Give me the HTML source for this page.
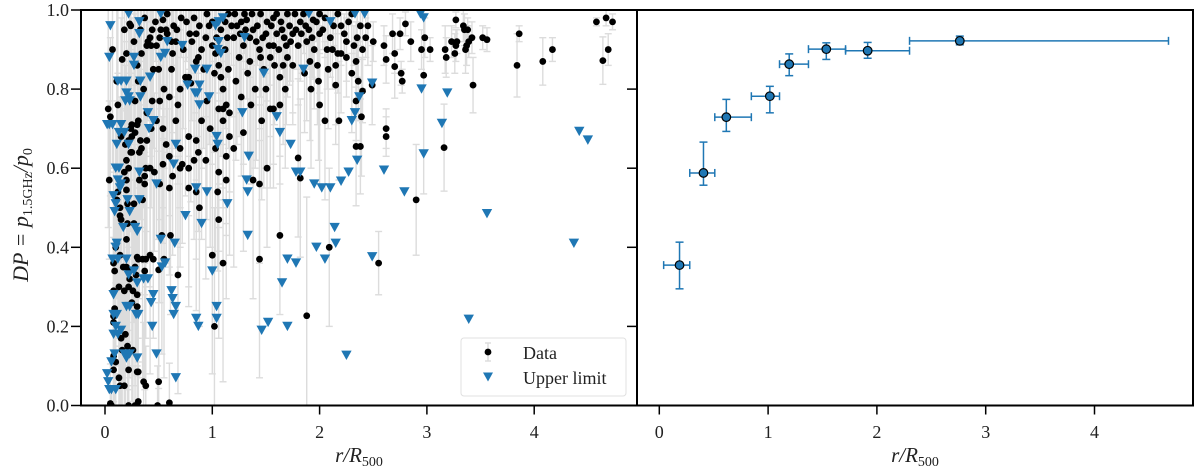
<!DOCTYPE html>
<html><head><meta charset="utf-8"><style>
html,body{margin:0;padding:0;background:#fff;width:1200px;height:466px;overflow:hidden}
svg text{font-family:"Liberation Serif",serif;fill:#222}
</style></head><body>
<svg id="chart" width="1200" height="466" viewBox="0 0 1200 466" xmlns="http://www.w3.org/2000/svg">
<defs><clipPath id="clipL"><rect x="81" y="10" width="556" height="395.5"/></clipPath>
<clipPath id="clipR"><rect x="637" y="10" width="556" height="395.5"/></clipPath></defs>
<g id="left"></g>
<g id="right"></g>
</svg>
<script>
// ---- left panel data: [r, DP, err]
const dataPoints = [
[0.04,0.57,0.2],[0.05,0.005,0.1],[0.08,0.226,0.3],[0.08,0.21,0.2],[0.08,0.09,0.15],[0.08,0.125,0.3],[0.1,0.11,0.2],[0.08,0.36,0.35],[0.09,0.34,0.2],[0.08,0.29,0.3],[0.09,0.245,0.25],[0.1,0.40,0.3],[0.13,0.30,0.2],[0.12,0.54,0.3],[0.11,0.52,0.25],[0.14,0.48,0.3],[0.14,0.50,0.2],[0.15,0.47,0.3],[0.13,0.07,0.1],[0.14,0.05,0.1],[0.15,0.17,0.2],[0.16,0.14,0.2],[0.17,0.35,0.3],[0.14,0.38,0.3],[0.18,0.29,0.2],[0.19,0.18,0.2],[0.18,0.05,0.1],[0.2,0.42,0.3],[0.2,0.35,0.2],[0.22,0.34,0.3],[0.22,0.30,0.2],[0.23,0.32,0.25],[0.21,0.15,0.2],[0.25,0.26,0.25],[0.26,0.29,0.2],[0.21,0.46,0.3],[0.2,0.57,0.3],[0.2,0.545,0.2],[0.21,0.51,0.2],[0.2,0.62,0.3],[0.24,0.64,0.2],[0.25,0.68,0.3],[0.24,0.70,0.2],[0.18,0.59,0.3],[0.22,0.60,0.2],[0.22,0.09,0.1],[0.28,0.0,0.1],[0.3,0.0,0.1],[0.22,0.0,0.05],[0.3,0.085,0.15],[0.3,0.28,0.2],[0.3,0.25,0.3],[0.28,0.35,0.3],[0.29,0.33,0.2],[0.26,0.14,0.2],[0.27,0.51,0.3],[0.27,0.46,0.2],[0.32,0.57,0.3],[0.37,0.56,0.2],[0.37,0.58,0.3],[0.35,0.52,0.2],[0.38,0.60,0.3],[0.33,0.67,0.2],[0.32,0.64,0.3],[0.3,0.71,0.2],[0.3,0.375,0.3],[0.31,0.37,0.2],[0.35,0.37,0.3],[0.38,0.37,0.2],[0.37,0.34,0.3],[0.36,0.06,0.15],[0.38,0.05,0.1],[0.31,0.085,0.2],
[0.07,0.90,0.3],[0.16,0.875,0.3],[0.20,0.89,0.2],[0.24,0.96,0.2],[0.23,0.965,0.3],[0.11,0.82,0.3],[0.12,0.76,0.3],[0.03,0.75,0.3],[0.05,0.73,0.2],[0.15,0.68,0.3],[0.19,0.66,0.2],[0.22,0.67,0.3],[0.25,0.64,0.2],[0.28,0.77,0.3],[0.3,0.86,0.2],[0.31,0.82,0.3],[0.34,0.89,0.2],[0.39,0.91,0.3],[0.40,0.92,0.2],[0.42,0.93,0.3],[0.43,0.91,0.2],[0.44,0.95,0.3],[0.48,0.91,0.2],[0.5,0.85,0.3],[0.52,0.95,0.2],[0.54,0.975,0.3],[0.57,0.95,0.2],[0.58,0.94,0.3],[0.51,0.93,0.2],[0.62,0.92,0.3],[0.63,0.89,0.2],[0.67,0.95,0.3],[0.66,0.92,0.2],[0.7,0.80,0.3],[0.68,0.76,0.2],[0.75,0.83,0.3],[0.78,0.83,0.2],[0.8,0.815,0.3],[0.81,0.92,0.2],[0.83,0.98,0.3],[0.85,0.94,0.2],[0.85,0.87,0.3],[0.87,0.88,0.2],[0.90,0.9,0.3],[0.94,0.93,0.2],[0.97,0.96,0.3],[1.0,0.91,0.3],[1.03,0.89,0.2],[1.06,0.86,0.3],[1.08,0.83,0.2],[1.1,0.80,0.3],[1.1,0.75,0.2],[1.13,0.76,0.3],[1.16,0.74,0.2],[1.06,0.75,0.3],[1.2,0.93,0.2],[1.23,0.96,0.3],[1.26,0.94,0.2],[1.29,0.91,0.3],[1.32,0.975,0.2],[1.35,0.87,0.3],[1.38,0.95,0.2],[1.41,0.92,0.3],[1.44,0.9,0.2],[1.48,0.85,0.3],[1.51,0.97,0.2],[1.54,0.88,0.2],[1.57,0.91,0.3],[1.6,0.94,0.2],[1.63,0.83,0.2],[1.66,0.86,0.2],[1.69,0.91,0.2],[1.72,0.96,0.15],[1.75,0.94,0.2],[1.82,0.97,0.15],[1.88,0.92,0.2],[1.91,0.87,0.2],[1.94,0.975,0.15],[2.0,0.94,0.15],[1.99,0.82,0.2],[2.0,0.76,0.2],[2.05,0.72,0.2],[2.15,0.81,0.15],[2.17,0.89,0.1],[2.25,0.92,0.1],[2.34,0.87,0.1],[2.18,0.72,0.15],[2.34,0.655,0.15],[1.8,0.626,0.2],[1.82,0.575,0.2],[1.51,0.6,0.2],[1.46,0.72,0.2],[1.29,0.69,0.3],[1.38,0.57,0.3],[1.44,0.56,0.2],[1.63,0.76,0.2],[1.57,0.75,0.2],[1.54,0.75,0.2],[1.16,0.68,0.3],[1.1,0.72,0.2],[1.03,0.65,0.3],[1.13,0.63,0.2],[1.2,0.65,0.3],[1.06,0.59,0.2],[1.13,0.57,0.3],[1.05,0.54,0.2],[0.94,0.62,0.3],[0.87,0.64,0.2],[0.85,0.67,0.3],[0.78,0.68,0.2],[0.7,0.65,0.3],[0.72,0.61,0.2],[0.78,0.6,0.3],[0.83,0.62,0.2],[0.85,0.54,0.3],[0.7,0.6,0.2],[0.6,0.63,0.3],[0.63,0.58,0.2],[0.51,0.56,0.3],[0.46,0.59,0.2],[0.57,0.66,0.3],[0.54,0.61,0.2],[0.42,0.6,0.3],[0.43,0.7,0.2],[0.48,0.72,0.3],[0.54,0.7,0.2],[0.39,0.74,0.3],[0.44,0.77,0.2],[0.51,0.77,0.3],[0.55,0.8,0.2],[0.6,0.78,0.3],[0.31,0.72,0.2],[0.28,0.69,0.3],[0.25,0.71,0.2],[0.39,0.67,0.3],[0.34,0.65,0.2],[0.78,0.55,0.3],[0.6,0.55,0.2],
[1.85,0.99,0.1],[1.9,0.95,0.1],[1.95,0.9,0.15],[2.05,0.98,0.1],[2.1,0.93,0.1],[2.2,0.96,0.1],[2.3,0.99,0.1],[2.35,0.93,0.1],[2.4,0.9,0.1],[2.2,0.89,0.15],[1.8,0.91,0.15],[1.7,0.99,0.1],[1.6,0.99,0.1],[1.45,0.99,0.1],[1.3,0.99,0.1],[1.15,0.99,0.1],[2.0,0.99,0.1],[2.45,0.96,0.1],[2.15,0.86,0.15],[2.3,0.84,0.15],[2.25,0.88,0.1],
[1.25,0.88,0.2],[1.33,0.84,0.2],[1.4,0.8,0.2],[1.47,0.93,0.1],[1.55,0.96,0.1],[1.62,0.9,0.15],[1.68,0.8,0.2],[1.75,0.86,0.15],[1.78,0.95,0.1],[1.12,0.9,0.2],[1.15,0.85,0.2],[1.18,0.96,0.1],[1.0,0.97,0.1],[1.02,0.84,0.2],[0.92,0.85,0.2],[0.95,0.77,0.3],[0.9,0.72,0.3],[0.98,0.7,0.3],[0.73,0.9,0.2],[0.76,0.97,0.1],[0.62,0.85,0.2],[0.66,0.72,0.3],[0.45,0.85,0.2],[0.36,0.8,0.3],[0.33,0.95,0.2],[0.27,0.92,0.2],[0.18,0.95,0.2],[1.27,0.78,0.2],[1.22,0.82,0.2],[1.36,0.76,0.2],[1.5,0.8,0.2],[1.58,0.86,0.15],[1.65,0.95,0.1],[1.92,0.8,0.2],[2.08,0.85,0.15],[2.12,0.9,0.1],[1.98,0.86,0.15],[1.86,0.84,0.15],
[1.08,0.95,0.1],[1.12,0.97,0.1],[1.21,0.99,0.05],[1.27,0.97,0.1],[1.35,0.93,0.1],[1.37,0.99,0.05],[1.42,0.96,0.1],[1.5,0.94,0.1],[1.53,0.91,0.1],[1.57,0.98,0.05],[1.64,0.97,0.05],[1.67,0.93,0.1],[1.73,0.92,0.1],[1.77,0.99,0.05],[1.83,0.94,0.1],[1.87,0.96,0.05],[1.93,0.93,0.1],[1.97,0.97,0.05],[2.03,0.95,0.05],[2.07,0.9,0.1],[2.13,0.96,0.05],[2.17,0.99,0.05],[2.23,0.94,0.05],[2.27,0.97,0.05],[2.32,0.91,0.05],[2.38,0.96,0.05],[2.43,0.93,0.05],[0.95,0.99,0.05],[0.88,0.96,0.1],[0.79,0.94,0.1],[0.71,0.98,0.1],[0.64,0.96,0.1],[0.58,0.99,0.1],[0.47,0.97,0.1],[0.37,0.98,0.1],[1.04,0.93,0.1],[1.14,0.93,0.1],[1.31,0.95,0.1],[1.45,0.88,0.1],[1.7,0.88,0.1],
[1.02,0.20,0.3],[1.1,0.36,0.3],[1.0,0.38,0.3],[1.06,0.47,0.3],[0.88,0.5,0.3],[1.44,0.37,0.3],[1.63,0.43,0.2],[1.88,0.227,0.3],[2.09,0.40,0.2],[0.68,0.33,0.3],[0.53,0.43,0.3],[0.61,0.43,0.2],[0.42,0.38,0.3],[0.45,0.37,0.2],[0.55,0.37,0.3],[0.5,0.343,0.3],[0.5,0.06,0.2],[0.31,0.01,0.1],[0.49,0.0,0.1],[0.6,0.007,0.1],[0.06,0.0,0.05],
[2.49,0.81,0.1],[2.97,0.835,0.3],[3.43,0.81,0.07],[3.84,0.86,0.08],[3.86,0.94,0.02],[4.08,0.87,0.06],[4.17,0.9,0.03],[4.58,0.97,0.01],[4.67,0.98,0.02],[4.73,0.97,0.02],[4.69,0.9,0.04],[4.64,0.872,0.06],[2.62,0.70,0.05],[2.62,0.68,0.05],[2.55,0.36,0.08],[2.9,0.52,0.14],[3.16,0.652,0.11],[2.38,0.655,0.12],[2.39,0.73,0.15],[2.4,0.795,0.08],[2.34,0.77,0.1],[2.36,0.82,0.1],[2.95,0.9,0.05],[3.03,0.9,0.03],[2.98,0.93,0.05],[2.85,0.92,0.05],[2.77,0.82,0.03],[2.76,0.84,0.03],[2.7,0.857,0.08],[2.7,0.89,0.05],[2.62,0.875,0.06],[2.5,0.92,0.05],[2.6,0.91,0.05],[2.68,0.94,0.05],[2.75,0.94,0.04],[2.8,0.965,0.03],[3.27,0.975,0.02],[3.35,0.95,0.04],[3.34,0.96,0.04],[3.38,0.95,0.03],[3.17,0.9,0.06],[3.18,0.88,0.05],[3.26,0.89,0.05],[3.27,0.91,0.04],[3.28,0.92,0.03],[3.23,0.92,0.04],[3.36,0.9,0.06],[3.37,0.91,0.05],[3.39,0.92,0.04],[3.42,0.93,0.04],[3.52,0.93,0.03],[3.56,0.925,0.03]
];
const ulPoints = [
[0.02,0.71],[0.04,0.71],[0.07,0.71],[0.05,0.96],[0.04,0.88],[0.02,0.08],[0.03,0.06],[0.04,0.04],[0.06,0.04],[0.1,0.04],[0.06,0.11],[0.09,0.13],[0.08,0.18],[0.1,0.2],[0.12,0.18],[0.15,0.19],[0.08,0.23],[0.11,0.23],[0.08,0.28],[0.07,0.37],[0.1,0.40],[0.11,0.41],[0.12,0.37],[0.09,0.49],[0.08,0.53],[0.1,0.51],[0.1,0.6],[0.13,0.6],[0.12,0.57],[0.14,0.55],[0.15,0.56],[0.11,0.66],[0.13,0.69],[0.15,0.71],[0.18,0.69],[0.12,0.82],[0.15,0.82],[0.2,0.82],[0.2,0.79],[0.22,0.78],[0.23,0.77],[0.19,0.77],[0.22,0.66],[0.21,0.52],[0.23,0.49],[0.17,0.45],[0.2,0.37],[0.22,0.33],[0.27,0.34],[0.3,0.31],[0.2,0.25],[0.23,0.25],[0.18,0.13],[0.23,0.13],[0.2,0.12],[0.3,0.12],[0.31,0.23],[0.29,0.23],[0.3,0.44],[0.28,0.45],[0.32,0.59],[0.32,0.52],[0.27,0.88],[0.27,0.86],[0.22,0.99],[0.32,0.97],[0.32,0.94],[0.33,0.82],[0.33,0.78],[0.36,0.32],[0.4,0.32],[0.43,0.26],[0.45,0.28],[0.44,0.2],[0.48,0.13],[0.4,0.74],[0.41,0.70],[0.45,0.72],[0.42,0.83],[0.48,0.56],[0.52,0.42],[0.53,0.35],[0.56,0.36],[0.52,0.99],[0.52,0.88],[0.56,0.89],[0.58,0.92],[0.62,0.29],[0.63,0.27],[0.64,0.23],[0.66,0.25],[0.65,0.41],[0.64,0.61],[0.66,0.66],[0.66,0.07],[0.72,0.91],[0.77,0.81],[0.75,0.48],[0.84,0.85],[0.84,0.79],[0.86,0.79],[0.88,0.76],[0.85,0.55],[0.9,0.46],[0.85,0.22],[0.87,0.20],[0.88,0.81],[0.95,0.85],[0.97,0.78],[0.95,0.54],[1.0,0.34],[1.04,0.25],[1.04,0.22],[1.04,0.68],[1.05,0.66],[1.03,0.96],[1.06,0.97],[1.1,0.98],[1.06,0.92],[1.05,0.90],[1.08,0.89],[1.14,0.51],[1.28,0.74],[1.32,0.57],[1.34,0.63],[1.33,0.54],[1.33,0.43],[1.3,0.93],[1.46,0.19],[1.48,0.84],[1.52,0.21],[1.6,0.73],[1.63,0.69],[1.65,0.31],[1.7,0.37],[1.7,0.2],[1.73,0.66],[1.78,0.36],[1.78,0.59],[1.82,0.59],[1.85,0.85],[1.9,0.99],[1.95,0.56],[1.97,0.4],[2.02,0.55],[2.1,0.55],[2.15,0.41],[2.05,0.37],[2.14,0.45],[2.27,0.59],[2.1,0.97],[2.3,0.72],
[2.33,0.99],[2.42,0.99],[2.94,0.99],[2.97,0.98],[2.49,0.815],[2.95,0.80],[3.19,0.79],[2.37,0.78],[2.33,0.74],[3.14,0.713],[2.35,0.62],[2.2,0.567],[2.6,0.595],[2.97,0.636],[2.79,0.54],[3.56,0.485],[4.42,0.693],[4.5,0.671],[4.37,0.41],[2.49,0.376],[3.39,0.218],[2.25,0.127]
];
// ---- right panel (binned) data
const binR  = [0.186,0.406,0.616,1.016,1.194,1.535,1.915,2.762];
const binDP = [0.355,0.588,0.729,0.782,0.863,0.901,0.897,0.922];
const binXlo= [0.04,0.28,0.51,0.846,1.105,1.371,1.712,2.30];
const binXhi= [0.28,0.51,0.846,1.105,1.371,1.712,2.30,4.68];
const binYlo= [0.295,0.557,0.693,0.740,0.834,0.875,0.878,0.912];
const binYhi= [0.413,0.666,0.774,0.807,0.889,0.917,0.918,0.934];
const xTicks = [0,1,2,3,4];
const yTicks = [0,0.2,0.4,0.6,0.8,1.0];
const yTickLabels = ["0.0","0.2","0.4","0.6","0.8","1.0"];

const NS="http://www.w3.org/2000/svg";
function mk(tag,attrs,parent){const e=document.createElementNS(NS,tag);for(const k in attrs)e.setAttribute(k,attrs[k]);parent.appendChild(e);return e;}
const TOP=10,BOT=405.5;
const yS=v=>BOT-(BOT-TOP)*v;
const xL=v=>105+107.3*v;
const xR=v=>659.3+108.8*v;
const L=document.getElementById('left'), R=document.getElementById('right');
const BLUE="#1f77b4";

const gErr=mk('g',{'clip-path':'url(#clipL)'},L);


dataPoints.forEach(p=>{const x=xL(p[0]),y1=yS(p[1]-p[2]),y2=yS(p[1]+p[2]);
 const g=mk('g',{stroke:'#dcdcdc','stroke-width':1.4},gErr);
 
 
 mk('line',{x1:x,x2:x,y1:y1,y2:y2},g);
 mk('line',{x1:x-3.5,x2:x+3.5,y1:y1,y2:y1},g);
 mk('line',{x1:x-3.5,x2:x+3.5,y1:y2,y2:y2},g);});
const gPts=mk('g',{'clip-path':'url(#clipL)'},L);
dataPoints.forEach(p=>{const c=mk('circle',{cx:xL(p[0]),cy:yS(p[1]),r:3.4,fill:'#000'},gPts);
 
 });
ulPoints.forEach(p=>{const x=xL(p[0]),y=yS(p[1]);
 const t=mk('path',{d:`M${x-5.2},${y-4.7}L${x+5.2},${y-4.7}L${x},${y+4.7}Z`,fill:BLUE},gPts);
 
 });

binR.forEach((r,i)=>{const g=mk('g',{stroke:BLUE,'stroke-width':1.5,fill:'none'},R);
 
 
 const x=xR(r),y=yS(binDP[i]),xa=xR(binXlo[i]),xb=xR(binXhi[i]),ya=yS(binYlo[i]),yb=yS(binYhi[i]);
 mk('line',{x1:xa,x2:xb,y1:y,y2:y},g);
 mk('line',{x1:xa,x2:xa,y1:y-4,y2:y+4},g);
 mk('line',{x1:xb,x2:xb,y1:y-4,y2:y+4},g);
 mk('line',{x1:x,x2:x,y1:ya,y2:yb},g);
 mk('line',{x1:x-4,x2:x+4,y1:ya,y2:ya},g);
 mk('line',{x1:x-4,x2:x+4,y1:yb,y2:yb},g);
 const c=mk('circle',{cx:x,cy:y,r:4.3,fill:BLUE,stroke:'#000','stroke-width':1.2},R);
 
 });

function axes(parent,x0,x1,xf,labels){
 const f=mk('rect',{x:x0,y:TOP,width:x1-x0,height:BOT-TOP,fill:'none',stroke:'#000','stroke-width':2},parent);
 
 
 xTicks.forEach(t=>{const x=xf(t);mk('line',{x1:x,x2:x,y1:BOT,y2:BOT+9,stroke:'#000','stroke-width':1.5},parent);
  const tx=mk('text',{x:x,y:438,'text-anchor':'middle','font-size':18},parent);tx.textContent=t;
  
  });
 yTicks.forEach((t,i)=>{const y=yS(t);mk('line',{x1:x0-10,x2:x0,y1:y,y2:y,stroke:'#000','stroke-width':1.5},parent);
  if(labels){const tx=mk('text',{x:x0-12,y:y+6,'text-anchor':'end','font-size':18},parent);tx.textContent=yTickLabels[i];
  
  }});
 const xt=mk('text',{x:(x0+x1)/2,y:462,'text-anchor':'middle','font-size':21,'font-style':'italic'},parent);
 xt.innerHTML='r/R<tspan font-size="14" font-style="normal" dy="4">500</tspan>';
 
 
}
axes(L,81,637,xL,true);
axes(R,637,1193,xR,false);

const yt=mk('text',{x:0,y:0,transform:'translate(28,215) rotate(-90)','text-anchor':'middle','font-size':22,'font-style':'italic'},L);
yt.innerHTML='DP = p<tspan font-size="14" font-style="normal" dy="4">1.5GHz</tspan><tspan dy="-4">/p</tspan><tspan font-size="14" font-style="normal" dy="4">0</tspan>';



const lg=mk('g',{},L);


mk('rect',{x:461,y:338,width:165,height:58,rx:3,fill:'#fff',stroke:'#e0e0e0','stroke-width':1},lg);
const le1=mk('g',{},lg);


mk('line',{x1:488,x2:488,y1:343,y2:361,stroke:'#dcdcdc','stroke-width':1.4},le1);
mk('line',{x1:485,x2:491,y1:343,y2:343,stroke:'#dcdcdc','stroke-width':1.4},le1);
mk('line',{x1:485,x2:491,y1:361,y2:361,stroke:'#dcdcdc','stroke-width':1.4},le1);
mk('circle',{cx:488,cy:352,r:3.4,fill:'#000'},le1);
const t1=mk('text',{x:523,y:359,'font-size':18},le1);t1.textContent='Data';
const le2=mk('g',{},lg);


mk('path',{d:'M483,372.5L493,372.5L488,381.5Z',fill:BLUE},le2);
const t2=mk('text',{x:523,y:384,'font-size':18},le2);t2.textContent='Upper limit';
</script>
</body></html>
